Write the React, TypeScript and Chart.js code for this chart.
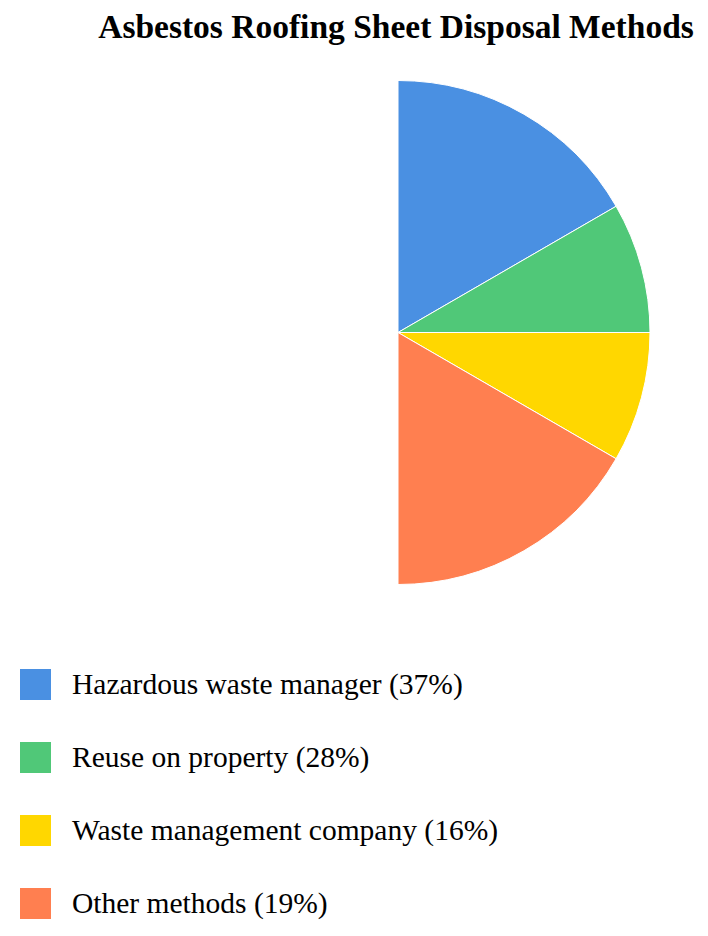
import React, { useEffect, useRef } from "react";
import { Chart, registerables } from "chart.js";

Chart.register(...registerables);

const chartTitle = "Asbestos Roofing Sheet Disposal Methods";
const categories = [
  "Hazardous waste manager",
  "Reuse on property",
  "Waste management company",
  "Other methods",
];
const reportedPercents = [37, 28, 16, 19];
const sliceShares = [33.3, 16.7, 16.7, 33.3];
const sliceColors = ["#4A90E2", "#50C878", "#FFD700", "#FF7F50"];

const serif = '"Liberation Serif", "Times New Roman", Times, serif';

export default function App() {
  const canvasRef = useRef<HTMLCanvasElement | null>(null);

  useEffect(() => {
    const canvas = canvasRef.current;
    if (!canvas) return;
    const chart = new Chart(canvas, {
      type: "pie",
      data: {
        labels: categories.map((c, i) => `${c} (${reportedPercents[i]}%)`),
        datasets: [
          {
            data: sliceShares,
            backgroundColor: sliceColors,
            borderColor: "#ffffff",
            borderWidth: 1,
            hoverOffset: 0,
          },
        ],
      },
      options: {
        responsive: false,
        animation: false,
        events: [],
        rotation: 0,
        circumference: 180,
        layout: { padding: { left: 340, right: 0, top: 0, bottom: 0 } },
        plugins: {
          legend: { display: false },
          title: { display: false },
          tooltip: { enabled: false },
        },
      },
    });
    return () => chart.destroy();
  }, []);

  return (
    <div style={{ position: "relative", width: 692, height: 920, fontFamily: serif }}>
      <div
        style={{
          position: "absolute",
          top: 2.2,
          left: 80,
          width: 616,
          textAlign: "center",
          fontWeight: "bold",
          fontSize: 33.5,
          lineHeight: "33.5px",
          whiteSpace: "nowrap",
          color: "#000",
        }}
      >
        {chartTitle}
      </div>
      <canvas
        ref={canvasRef}
        width={692}
        height={505}
        style={{ position: "absolute", top: 71.5, left: 0, width: 692, height: 505 }}
      />
      {categories.map((c, i) => (
        <div
          key={c}
          style={{
            position: "absolute",
            top: 661 + 73 * i,
            left: 12,
            height: 31,
            display: "flex",
            alignItems: "flex-start",
            whiteSpace: "nowrap",
          }}
        >
          <div style={{ width: 31, height: 31, background: sliceColors[i] }} />
          <div
            style={{
              marginLeft: 21,
              fontSize: 29.5,
              lineHeight: "31px",
              color: "#000",
            }}
          >
            {`${c} (${reportedPercents[i]}%)`}
          </div>
        </div>
      ))}
    </div>
  );
}
